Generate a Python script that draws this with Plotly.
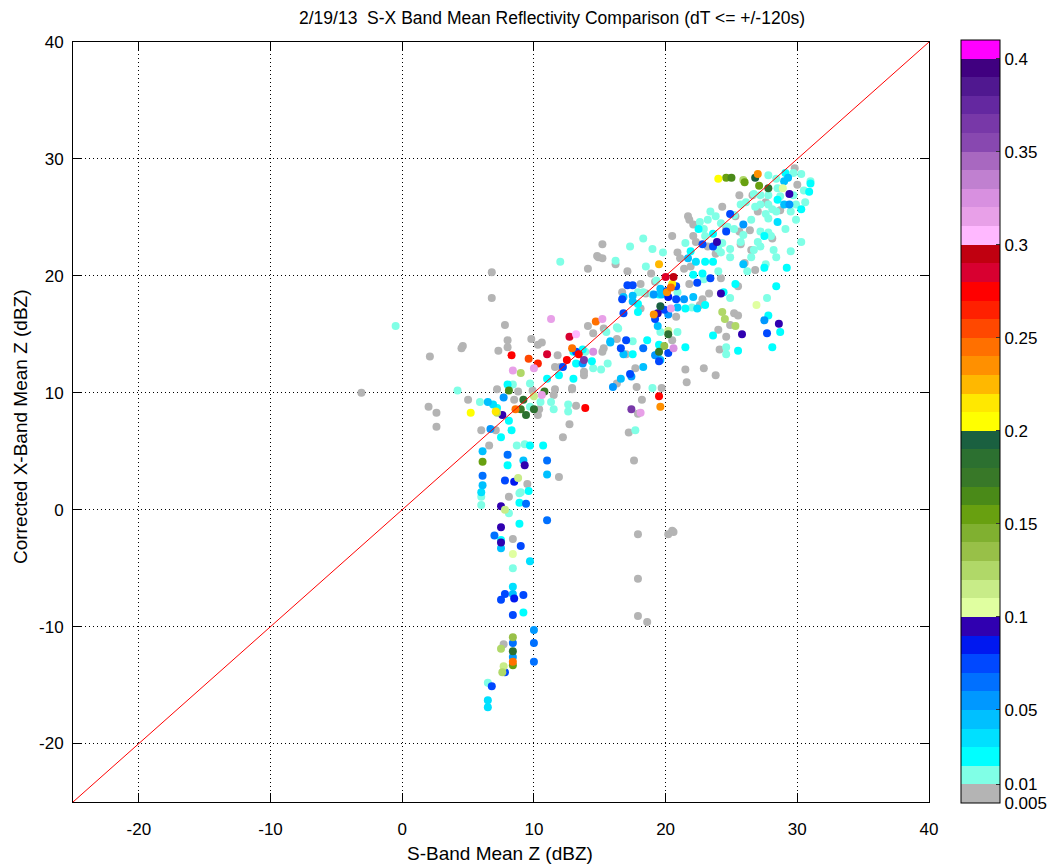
import plotly.graph_objects as go

# ---------------- text ----------------
title_text = "2/19/13  S-X Band Mean Reflectivity Comparison (dT <= +/-120s)"
x_title = "S-Band Mean Z (dBZ)"
y_title = "Corrected X-Band Mean Z (dBZ)"

axis_range = [-25, 40]
axis_ticks = [-20, -10, 0, 10, 20, 30, 40]
axis_tick_labels = ["-20", "-10", "0", "10", "20", "30", "40"]

# ---------------- colorbar (one band per 0.01, gray below 0.01, magenta above 0.4) ----------------
band_colors = [
    "#B4B4B4",
    "#80FFE6", "#00FFFF", "#00E0FF", "#00C0FF", "#0098FF", "#0070FF", "#0048FF", "#0018F0", "#3000B0",
    "#E0FFA0", "#C8EC88", "#B0D868", "#98C048", "#80B030", "#68A010", "#4A8A18", "#387828", "#2C7030", "#1A6040",
    "#FFFF00", "#FFE800", "#FFB800", "#FF9000", "#FF7000", "#FF4800", "#FF2000", "#FF0000", "#D80030", "#C00010",
    "#FFB8FF", "#E8A0E8", "#D890E0", "#C080D0", "#A868C0", "#8848B0", "#7838A8", "#6428A0", "#501890", "#400080",
    "#FF00FF",
]
cbar_tick_values = [0.005, 0.01, 0.05, 0.1, 0.15, 0.2, 0.25, 0.3, 0.35, 0.4]
cbar_tick_labels = ["0.005", "0.01", "0.05", "0.1", "0.15", "0.2", "0.25", "0.3", "0.35", "0.4"]

# ---------------- data: (S-band Z, X-band Z) pairs grouped by colour value ----------------
pts_0007 = [
    (29.8, 29.2), (30.0, 27.8), (26.6, 26.9), (25.6, 26.9), (27.0, 25.5), (28.7, 25.6), (24.6, 24.0),
    (21.7, 25.1), (21.8, 24.8), (22.1, 24.4), (25.6, 23.8), (26.4, 23.9), (28.1, 23.2), (26.5, 22.2),
    (25.7, 22.7), (23.8, 21.9), (23.2, 22.5), (22.1, 23.4), (20.9, 22.0), (20.5, 23.4), (21.1, 21.5),
    (26.0, 21.1), (26.8, 20.5), (18.9, 20.2), (21.4, 20.6), (21.9, 20.8), (24.2, 19.8), (25.5, 19.1),
    (21.8, 19.3), (19.2, 19.5), (22.8, 18.0), (23.3, 18.5), (22.6, 17.5), (25.2, 16.8), (25.5, 16.6),
    (24.9, 15.8), (24.0, 15.4), (24.6, 14.8), (27.6, 26.3), (25.3, 25.1), (24.3, 25.9), (22.3, 22.9),
    (14.9, 21.6), (14.1, 20.6), (16.2, 21.0), (17.1, 20.4), (18.1, 19.3), (16.7, 18.6), (18.5, 18.5),
    (18.1, 17.2), (20.8, 16.5), (20.5, 14.5), (17.7, 12.1), (16.3, 10.8), (17.8, 10.5), (19.7, 10.4),
    (21.5, 12.0), (15.3, 13.8), (13.8, 11.8), (12.9, 10.4), (15.2, 13.5), (15.3, 15.5), (14.5, 15.1),
    (14.1, 15.7), (15.2, 22.7), (14.8, 21.7), (15.2, 21.5),
    (7.8, 15.8), (4.6, 14.0), (4.5, 13.8), (8.0, 14.5), (8.0, 13.9), (7.3, 13.6), (9.8, 14.6),
    (10.3, 14.1), (10.6, 14.3), (11.8, 13.2), (17.0, 13.3), (16.3, 14.6), (18.2, 9.4), (17.2, 6.6),
    (17.9, 8.2), (17.6, 4.2), (13.2, 8.9), (12.7, 7.3), (12.2, 6.2), (11.9, 2.8), (9.5, 2.2), (8.1, 1.1),
    (6.6, 5.5), (7.1, 6.8), (6.0, 6.8), (5.0, 9.4), (7.2, 10.3), (8.5, 9.4), (8.8, 10.1), (9.9, 10.2),
    (10.4, 8.6), (10.3, 8.1), (11.5, 9.8), (11.6, 10.3), (11.6, 12.2), (12.0, 12.2), (12.9, 10.3),
    (13.8, 11.5), (8.4, -2.5), (7.7, -11.5),
    (24.1, 13.7), (22.9, 12.1), (23.8, 11.5), (21.6, 10.9), (20.5, -1.8),
    (2.1, 13.1), (-3.1, 10.0), (2.0, 8.8), (2.6, 8.3), (2.6, 7.1),
    (17.9, -2.1), (20.2, -2.1), (20.6, -1.9), (17.9, -5.9), (17.9, -9.1), (18.6, -9.6),
    (6.8, 20.3), (6.8, 18.1),
]
pts_0015 = [
    (27.8, 28.6), (28.4, 28.3), (29.7, 28.8), (30.3, 28.7), (30.5, 27.3), (28.5, 27.5), (29.7, 26.9),
    (29.9, 26.1), (27.8, 26.9), (27.2, 26.9), (26.7, 27.0), (25.7, 26.1), (27.8, 26.1), (27.2, 26.1),
    (28.1, 25.7), (28.4, 25.5), (27.6, 25.3), (27.8, 24.9), (26.5, 24.8), (25.2, 25.2), (24.7, 24.2),
    (24.2, 24.5), (23.4, 25.5), (23.2, 24.8), (22.6, 24.6), (22.9, 24.0), (25.2, 24.0), (25.9, 23.5),
    (27.2, 23.8), (27.0, 22.9), (27.8, 23.7), (28.2, 22.2), (26.7, 22.2), (24.9, 22.3), (24.3, 22.8),
    (24.0, 22.3), (21.5, 22.8), (19.8, 22.0), (19.0, 22.3), (18.3, 23.2), (24.2, 22.0), (24.9, 21.6),
    (26.2, 20.4), (18.5, 20.8), (22.9, 19.7), (24.0, 20.4), (18.3, 18.6), (20.9, 18.6), (24.9, 18.1),
    (27.7, 18.1), (24.6, 13.9),
    (26.1, 26.3), (26.8, 25.9), (28.7, 26.8), (29.5, 25.5), (29.9, 24.8), (29.1, 24.0), (28.0, 23.4),
    (27.2, 22.5), (26.5, 21.6), (25.7, 22.9), (23.8, 25.1), (23.0, 23.4), (30.3, 22.9), (29.5, 22.1),
    (28.4, 21.6), (27.6, 21.0), (30.6, 26.3), (31.0, 28.1),
    (16.2, 21.3), (19.3, 19.6), (17.9, 18.6), (19.0, 18.4), (22.0, 17.3), (19.6, 15.2), (20.9, 15.2),
    (17.5, 14.4), (19.0, 10.4), (15.6, 12.5), (15.1, 12.0), (14.5, 12.1), (13.9, 13.5), (16.4, 15.5),
    (15.5, 15.2), (16.3, 15.6), (17.7, 6.8), (12.6, 9.0), (12.6, 8.4), (9.3, 5.6), (8.7, 5.5), (9.0, 1.5),
    (5.9, 9.2), (4.2, 10.2), (8.4, 10.7), (9.7, 10.8), (9.7, 8.8), (10.5, 9.2), (11.3, 9.2), (11.5, 8.6),
    (6.0, 1.1), (6.0, 0.4), (8.9, 1.4), (8.1, -0.3), (8.4, -5.0), (6.5, -14.8),
    (12.0, 21.2), (17.3, 22.5), (24.6, 13.3), (-0.5, 15.7),
]
pts_0025 = [
    (29.1, 28.8), (31.0, 27.9), (30.3, 25.7), (28.5, 26.5), (22.5, 24.0), (27.5, 23.4), (21.9, 22.1),
    (23.0, 21.2), (23.6, 21.2), (27.5, 20.7), (29.2, 20.7), (22.1, 20.1), (22.8, 20.2), (25.3, 19.3),
    (23.0, 17.5), (24.4, 18.6), (28.4, 19.1), (23.6, 14.9), (27.8, 16.6), (28.7, 15.2), (28.1, 13.9),
    (23.6, 23.6), (30.9, 27.2),
    (19.5, 18.4), (17.9, 17.6), (17.9, 16.9), (21.5, 17.2), (19.5, 14.1), (21.5, 13.9), (18.6, 14.5),
    (17.5, 13.3), (14.4, 12.7), (13.0, 11.2), (13.2, 12.5),
    (10.7, 5.5), (9.7, 5.5), (9.6, 1.6), (8.0, 3.8), (7.5, 6.2), (8.3, 6.8), (8.1, 7.6), (7.2, 8.7),
    (8.0, 10.7), (11.0, 11.2), (11.9, 11.5), (13.0, 13.5), (13.7, 13.7),
    (8.9, 0.6), (8.9, -1.2), (7.5, -2.6), (9.2, -8.8), (25.5, 13.6),
]
pts_0035 = [
    (28.5, 24.6), (22.3, 21.2), (22.4, 17.2), (6.9, 9.0), (6.0, 1.5), (9.7, -4.4), (8.4, -6.6),
    (6.5, -16.3), (6.5, -16.9),
]
pts_0045 = [
    (29.3, 28.4), (29.0, 28.1), (29.0, 26.1), (21.7, 21.5), (25.9, 21.0), (19.7, 18.4), (22.1, 18.2),
    (16.8, 18.2), (19.6, 18.9), (17.5, 17.8), (20.9, 17.3), (19.4, 15.7), (19.4, 13.3), (19.6, 12.8),
    (15.8, 14.4), (16.8, 13.3), (18.3, 12.2), (16.6, 11.2), (17.5, 18.3),
    (15.8, 14.3), (11.0, 3.0), (9.2, 4.2), (6.1, 5.0), (6.1, 2.1), (6.5, 9.2), (7.5, -3.3), (8.4, -7.2),
]
pts_0055 = [
    (29.4, 26.1), (25.9, 24.4), (19.1, 18.4), (21.4, 18.0), (27.5, 16.2), (20.2, 16.7), (17.4, 11.4),
    (16.0, 10.5), (13.7, 12.5), (6.7, 6.9), (7.7, 9.6), (10.0, -10.3), (8.4, -12.6), (19.2, 13.2),
]
pts_0065 = [
    (18.3, 13.8), (11.0, 4.2), (8.0, 4.7), (6.1, 2.9), (9.4, 0.5), (11.0, -0.9), (7.0, -2.2),
    (8.4, -11.4), (10.0, -11.4), (10.0, -13.0),
]
pts_0075 = [
    (24.9, 25.3), (24.6, 23.8), (23.6, 22.5), (22.8, 22.7), (23.4, 19.8), (20.8, 19.1), (20.8, 18.0),
    (27.7, 15.1), (22.4, 19.4), (17.1, 19.2), (17.5, 19.2), (20.1, 18.7), (19.9, 17.1), (16.8, 16.8),
    (19.2, 16.3), (20.2, 13.4), (17.0, 14.5), (16.6, 13.8), (17.3, 11.6), (13.2, 13.5), (12.2, 12.2),
    (16.7, 18.0), (7.8, 2.5), (9.0, -3.1), (7.8, -7.2), (9.2, -7.3), (7.5, -7.7), (8.4, -9.0),
    (7.8, -13.9), (6.8, -15.1), (19.5, 12.7),
]
pts_0085 = [(20.2, 18.2), (8.5, 2.4), (8.5, -7.6)]
pts_0095 = [
    (29.4, 27.0), (23.9, 22.9), (24.2, 18.5), (25.8, 15.0), (28.6, 15.9), (19.4, 16.8), (9.3, 3.8),
    (7.6, 8.1), (7.5, 0.3), (7.5, -1.5), (7.5, -2.8),
]
pts_0105 = [(28.9, 27.5), (26.9, 17.5), (8.4, -3.8)]
pts_0115 = [(20.2, 15.3), (8.8, 2.7), (10.0, 9.7), (7.8, 0.0), (7.7, -13.4)]
pts_0125 = [(25.9, 28.2), (24.3, 16.9), (24.5, 16.3), (25.3, 15.7), (7.2, 8.3), (9.0, 11.7), (7.5, -11.9), (7.6, -13.9)]
pts_0135 = [(19.9, 14.0), (8.4, -10.9)]
pts_0155 = [(24.6, 28.4), (26.0, 28.0), (27.1, 27.7), (6.1, 4.1), (8.4, -13.3)]
pts_0165 = [(25.0, 28.4), (8.1, 10.2)]
pts_0175 = [(19.5, 13.5), (9.0, 8.6), (10.8, 10.1)]
pts_0185 = [(27.8, 27.5), (20.2, 15.0), (9.2, 9.4), (9.4, 8.1), (10.0, 8.6), (8.4, -12.1)]
pts_0195 = [(26.8, 28.4), (19.6, 17.4)]
pts_0205 = [(24.0, 28.3), (5.2, 8.3)]
pts_0215 = [(20.5, 19.3), (7.1, 8.4)]
pts_0225 = [(19.5, 21.0)]
pts_0235 = [(27.0, 28.7), (20.1, 18.6), (19.1, 16.7), (19.6, 8.8)]
pts_0245 = [(20.4, 19.0), (14.7, 16.1), (12.9, 13.8), (8.6, 8.6), (8.4, -13.0)]
pts_0255 = [(9.6, 12.9)]
pts_0265 = [(10.3, 12.5)]
pts_0275 = [(19.5, 9.7), (12.5, 12.8), (8.3, 13.2), (13.9, 8.7), (13.4, 13.3)]
pts_0285 = [(20.0, 19.9), (12.7, 14.8), (11.0, 13.3)]
pts_0295 = [(20.6, 19.9)]
pts_0305 = [(13.2, 15.0)]
pts_0315 = [(20.4, 17.2), (15.2, 16.3), (11.3, 16.3), (18.1, 8.3), (10.6, 9.8), (8.4, 11.9), (10.0, 12.1)]
pts_0325 = [(20.6, 13.8), (14.5, 13.5)]
pts_0365 = [(13.8, 12.8), (17.4, 8.6)]

groups = [
    (0.007, pts_0007), (0.015, pts_0015), (0.025, pts_0025), (0.035, pts_0035), (0.045, pts_0045),
    (0.055, pts_0055), (0.065, pts_0065), (0.075, pts_0075), (0.085, pts_0085), (0.095, pts_0095),
    (0.105, pts_0105), (0.115, pts_0115), (0.125, pts_0125), (0.135, pts_0135), (0.155, pts_0155),
    (0.165, pts_0165), (0.175, pts_0175), (0.185, pts_0185), (0.195, pts_0195), (0.205, pts_0205),
    (0.215, pts_0215), (0.225, pts_0225), (0.235, pts_0235), (0.245, pts_0245), (0.255, pts_0255),
    (0.265, pts_0265), (0.275, pts_0275), (0.285, pts_0285), (0.295, pts_0295), (0.305, pts_0305),
    (0.315, pts_0315), (0.325, pts_0325), (0.365, pts_0365),
]

N_BANDS = len(band_colors)


def band_index(v):
    # gray band below 0.01, one band per 0.01 up to 0.4, magenta above
    return min(int(round(v * 1000)) // 10, N_BANDS - 1)


def band_edge(v):
    return 0 if v < 0.01 else v * 100


colorscale = []
for i, c in enumerate(band_colors):
    colorscale.append([i / N_BANDS, c])
    colorscale.append([(i + 1) / N_BANDS, c])

xs, ys, cs = [], [], []
for v, pts in groups:
    for s, x in pts:
        xs.append(s)
        ys.append(x)
        cs.append(band_index(v) + 0.5)

FONT = "Liberation Sans, Arial, sans-serif"

# plot-area pixel geometry
W, H = 1059, 867
L, R, T, B = 73, 929, 42, 802

fig = go.Figure()
fig.add_trace(go.Scatter(
    x=xs, y=ys, mode="markers",
    marker=dict(
        size=8, color=cs, colorscale=colorscale, cmin=0, cmax=N_BANDS,
        line=dict(width=0),
        colorbar=dict(
            thickness=39, thicknessmode="pixels",
            len=763, lenmode="pixels",
            x=(961 - L) / (R - L), xanchor="left", xpad=0,
            y=1 + (T - 40) / (B - T), yanchor="top", ypad=0,
            outlinewidth=1, outlinecolor="black",
            tickmode="array",
            tickvals=[band_edge(v) for v in cbar_tick_values],
            ticktext=cbar_tick_labels,
            ticks="inside", ticklen=4, tickcolor="#333",
            tickfont=dict(family=FONT, size=17, color="black"),
        ),
    ),
    hoverinfo="skip", showlegend=False,
))
fig.add_trace(go.Scatter(
    x=axis_range, y=axis_range, mode="lines",
    line=dict(color="#FF0000", width=1),
    hoverinfo="skip", showlegend=False,
))

axis_common = dict(
    range=axis_range, tickmode="array", tickvals=axis_ticks, ticktext=axis_tick_labels,
    showgrid=True, gridcolor="black", gridwidth=1, griddash="1px,3px",
    zeroline=False, showline=True, linecolor="black", linewidth=1, mirror="ticks",
    ticks="inside", ticklen=9, tickcolor="black",
    tickfont=dict(family=FONT, size=17, color="black"),
    fixedrange=True,
)
fig.update_layout(
    width=W, height=H,
    margin=dict(l=L, r=W - R, t=T, b=H - B, autoexpand=False),
    paper_bgcolor="white", plot_bgcolor="white",
    xaxis=dict(**axis_common, ticklabelstandoff=12),
    yaxis=dict(**axis_common, ticklabelstandoff=5),
    font=dict(family=FONT, size=17, color="black"),
    annotations=[
        dict(text=title_text, xref="paper", yref="paper",
             x=(552 - L) / (R - L), y=1 + (T - 18) / (B - T),
             xanchor="center", yanchor="middle", showarrow=False,
             font=dict(family=FONT, size=17.5, color="black")),
        dict(text=x_title, xref="paper", yref="paper",
             x=(500 - L) / (R - L), y=-(853 - B) / (B - T),
             xanchor="center", yanchor="middle", showarrow=False,
             font=dict(family=FONT, size=19, color="black")),
        dict(text=y_title, xref="paper", yref="paper",
             x=-(L - 20) / (R - L), y=(B - 427) / (B - T),
             xanchor="center", yanchor="middle", textangle=-90, showarrow=False,
             font=dict(family=FONT, size=19, color="black")),
    ],
)

fig.write_html(
    "out.html",
    config={"displayModeBar": False},
    post_script="document.body.style.margin='0';document.body.style.padding='0';",
)
